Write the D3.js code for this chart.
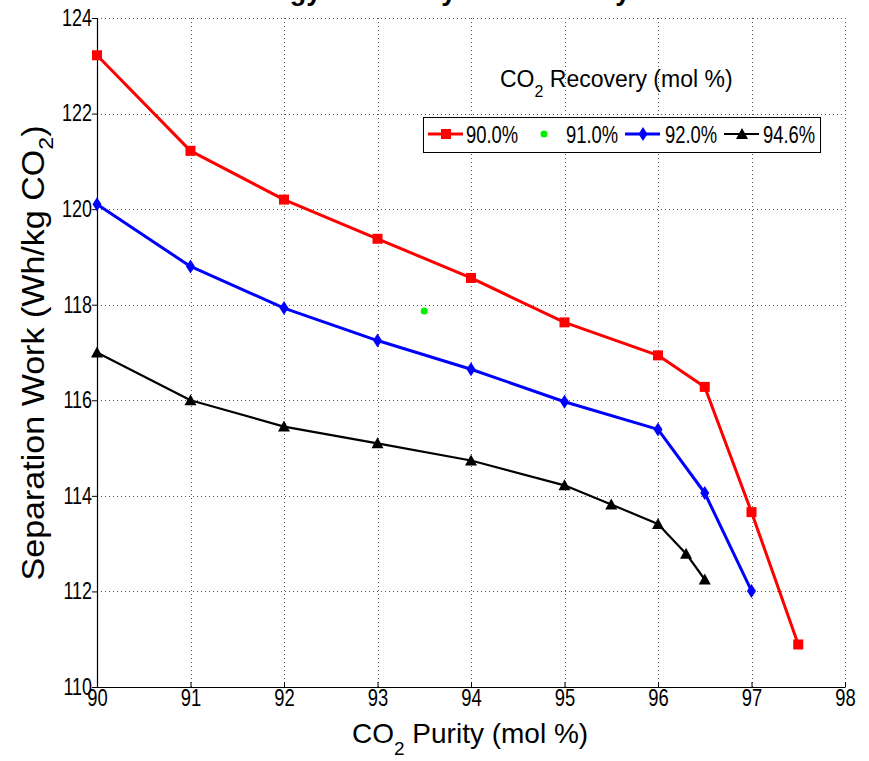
<!DOCTYPE html>
<html>
<head>
<meta charset="utf-8">
<script src="https://cdn.jsdelivr.net/npm/d3@7"></script>
<style>
  html, body { margin: 0; padding: 0; background: #fff; }
  svg { display: block; }
  text { font-family: "Liberation Sans", Arial, Helvetica, sans-serif; }
</style>
</head>
<body>
<script>
// CO2 purity (mol %) and separation work (Wh/kg CO2) for each recovery level
const purity90 = [90, 91, 92, 93, 94, 95, 96, 96.5, 97, 97.5];
const work90   = [123.22, 121.22, 120.2, 119.38, 118.56, 117.63, 116.94, 116.28, 113.66, 110.89];

const purity91 = [93.5];
const work91   = [117.87];

const purity92 = [90, 91, 92, 93, 94, 95, 96, 96.5, 97];
const work92   = [120.1, 118.8, 117.93, 117.25, 116.65, 115.97, 115.39, 114.06, 112.01];

const purity946 = [90, 91, 92, 93, 94, 95, 95.5, 96, 96.3, 96.5];
const work946   = [117.0, 116.0, 115.45, 115.1, 114.74, 114.22, 113.82, 113.41, 112.79, 112.25];

const seriesNames = ["90.0%", "91.0%", "92.0%", "94.6%"];
const xTicks = [90, 91, 92, 93, 94, 95, 96, 97, 98];
const yTicks = [110, 112, 114, 116, 118, 120, 122, 124];

const W = 869, H = 761;
const margin = { left: 97, right: 24, top: 18, bottom: 74 };

const svg = d3.select("body").append("svg")
  .attr("width", W).attr("height", H);

const x = d3.scaleLinear().domain([90, 98]).range([margin.left, W - margin.right]);
const y = d3.scaleLinear().domain([110, 124]).range([H - margin.bottom, margin.top]);

// Squeeze a text horizontally to mimic a condensed face
function condense(sel, factor) {
  sel.each(function () {
    const len = this.getComputedTextLength();
    d3.select(this).attr("textLength", len * factor).attr("lengthAdjust", "spacingAndGlyphs");
  });
}

// Title (sits above the visible frame)
svg.append("text")
  .attr("x", 430).attr("y", 0)
  .attr("text-anchor", "middle")
  .attr("font-size", 27).attr("font-weight", "bold")
  .text("Energy Efficiency vs. Recovery");

// Dotted grid
const grid = svg.append("g").attr("stroke", "#555").attr("stroke-width", 1)
  .attr("stroke-dasharray", "1,3").attr("fill", "none");
grid.selectAll("line.gx").data(xTicks.slice(1)).join("line")
  .attr("x1", d => Math.round(x(d)) + 0.5).attr("x2", d => Math.round(x(d)) + 0.5)
  .attr("y1", y(110)).attr("y2", y(124));
grid.selectAll("line.gy").data(yTicks.slice(1)).join("line")
  .attr("y1", d => Math.round(y(d)) + 0.5).attr("y2", d => Math.round(y(d)) + 0.5)
  .attr("x1", x(90)).attr("x2", x(98));

// Axes
const xAxis = d3.axisBottom(x).tickValues(xTicks).tickSize(0).tickPadding(3).tickFormat(d3.format("d"));
const gx = svg.append("g").attr("transform", `translate(0,${y(110)})`).call(xAxis);
gx.select(".domain").attr("stroke", "#000").attr("stroke-width", 1.2);
gx.selectAll("text").attr("font-size", 23).attr("fill", "#000").attr("font-family", null);
gx.selectAll(".tick").append("line").attr("y2", -5).attr("stroke", "#000");
condense(gx.selectAll("text"), 0.8);

const yAxis = d3.axisLeft(y).tickValues(yTicks).tickSize(5).tickPadding(0).tickFormat(d3.format("d"));
const gy = svg.append("g").attr("transform", `translate(${x(90)},0)`).call(yAxis);
gy.select(".domain").attr("stroke", "#000").attr("stroke-width", 1.2);
gy.selectAll(".tick line").attr("stroke", "#000");
gy.selectAll("text").attr("font-size", 23).attr("fill", "#000").attr("font-family", null);
condense(gy.selectAll("text"), 0.78);

// Axis labels
const xl = svg.append("text").attr("font-size", 28)
  .attr("x", 352).attr("y", 743).attr("fill", "#000");
xl.append("tspan").text("CO");
xl.append("tspan").attr("font-size", 19).attr("dy", 12).text("2");
xl.append("tspan").attr("dy", -12).text(" Purity (mol %)");

const yl = svg.append("text").attr("font-size", 31)
  .attr("transform", "translate(44,353) rotate(-90)")
  .attr("text-anchor", "middle").attr("fill", "#000");
yl.append("tspan").text("Separation Work (Wh/kg CO");
yl.append("tspan").attr("font-size", 21).attr("dy", 9).text("2");
yl.append("tspan").attr("dy", -9).text(")");
yl.attr("textLength", 455).attr("lengthAdjust", "spacingAndGlyphs");

// Series
const line = d3.line().x(d => x(d[0])).y(d => y(d[1]));
const zip = (a, b) => a.map((v, i) => [v, b[i]]);

const series = [
  { name: seriesNames[0], pts: zip(purity90, work90),   color: "#ff0000", width: 3,   marker: "square" },
  { name: seriesNames[1], pts: zip(purity91, work91),   color: "#00ee00", width: 0,   marker: "dot" },
  { name: seriesNames[2], pts: zip(purity92, work92),   color: "#0000ff", width: 3,   marker: "diamond" },
  { name: seriesNames[3], pts: zip(purity946, work946), color: "#000000", width: 2.2, marker: "triangle" }
];

function drawMarker(g, type, color) {
  if (type === "square") {
    g.append("rect").attr("x", -5).attr("y", -5).attr("width", 10).attr("height", 10).attr("fill", color);
  } else if (type === "diamond") {
    g.append("path").attr("d", "M0,-7 L4.5,0 L0,7 L-4.5,0 Z").attr("fill", color);
  } else if (type === "triangle") {
    g.append("path").attr("d", "M0,-6 L6,5 L-6,5 Z").attr("fill", color);
  } else if (type === "dot") {
    g.append("circle").attr("r", 3.5).attr("fill", color);
  }
}

series.forEach(s => {
  if (s.width > 0) {
    svg.append("path").datum(s.pts).attr("d", line)
      .attr("fill", "none").attr("stroke", s.color).attr("stroke-width", s.width)
      .attr("stroke-linejoin", "round");
  }
  s.pts.forEach(p => {
    const g = svg.append("g").attr("transform", `translate(${x(p[0])},${y(p[1])})`);
    drawMarker(g, s.marker, s.color);
  });
});

// Legend heading
const lt = svg.append("text").attr("font-size", 23)
  .attr("x", 500).attr("y", 87).attr("fill", "#000");
lt.append("tspan").text("CO");
lt.append("tspan").attr("font-size", 16).attr("dy", 10).text("2");
lt.append("tspan").attr("dy", -10).text(" Recovery (mol %)");

// Legend box
const leg = svg.append("g").attr("transform", "translate(423,117)");
leg.append("rect").attr("x", 0.5).attr("y", 0.5).attr("width", 397).attr("height", 35)
  .attr("fill", "#fff").attr("stroke", "#000").attr("stroke-width", 1);
const offsets = [5, 103, 202, 301];
const textGap = [38, 40, 40, 39];
series.forEach((s, i) => {
  const g = leg.append("g").attr("transform", `translate(${offsets[i]},17)`);
  if (s.width > 0) {
    g.append("line").attr("x1", 0).attr("x2", 35).attr("stroke", s.color).attr("stroke-width", s.width);
  }
  const m = g.append("g").attr("transform", "translate(18,0)");
  drawMarker(m, s.marker, s.color);
  const t = g.append("text").attr("font-size", 23)
    .attr("x", textGap[i]).attr("y", 8.5).attr("fill", "#000").text(s.name);
  condense(t, 0.8);
});
</script>
</body>
</html>
